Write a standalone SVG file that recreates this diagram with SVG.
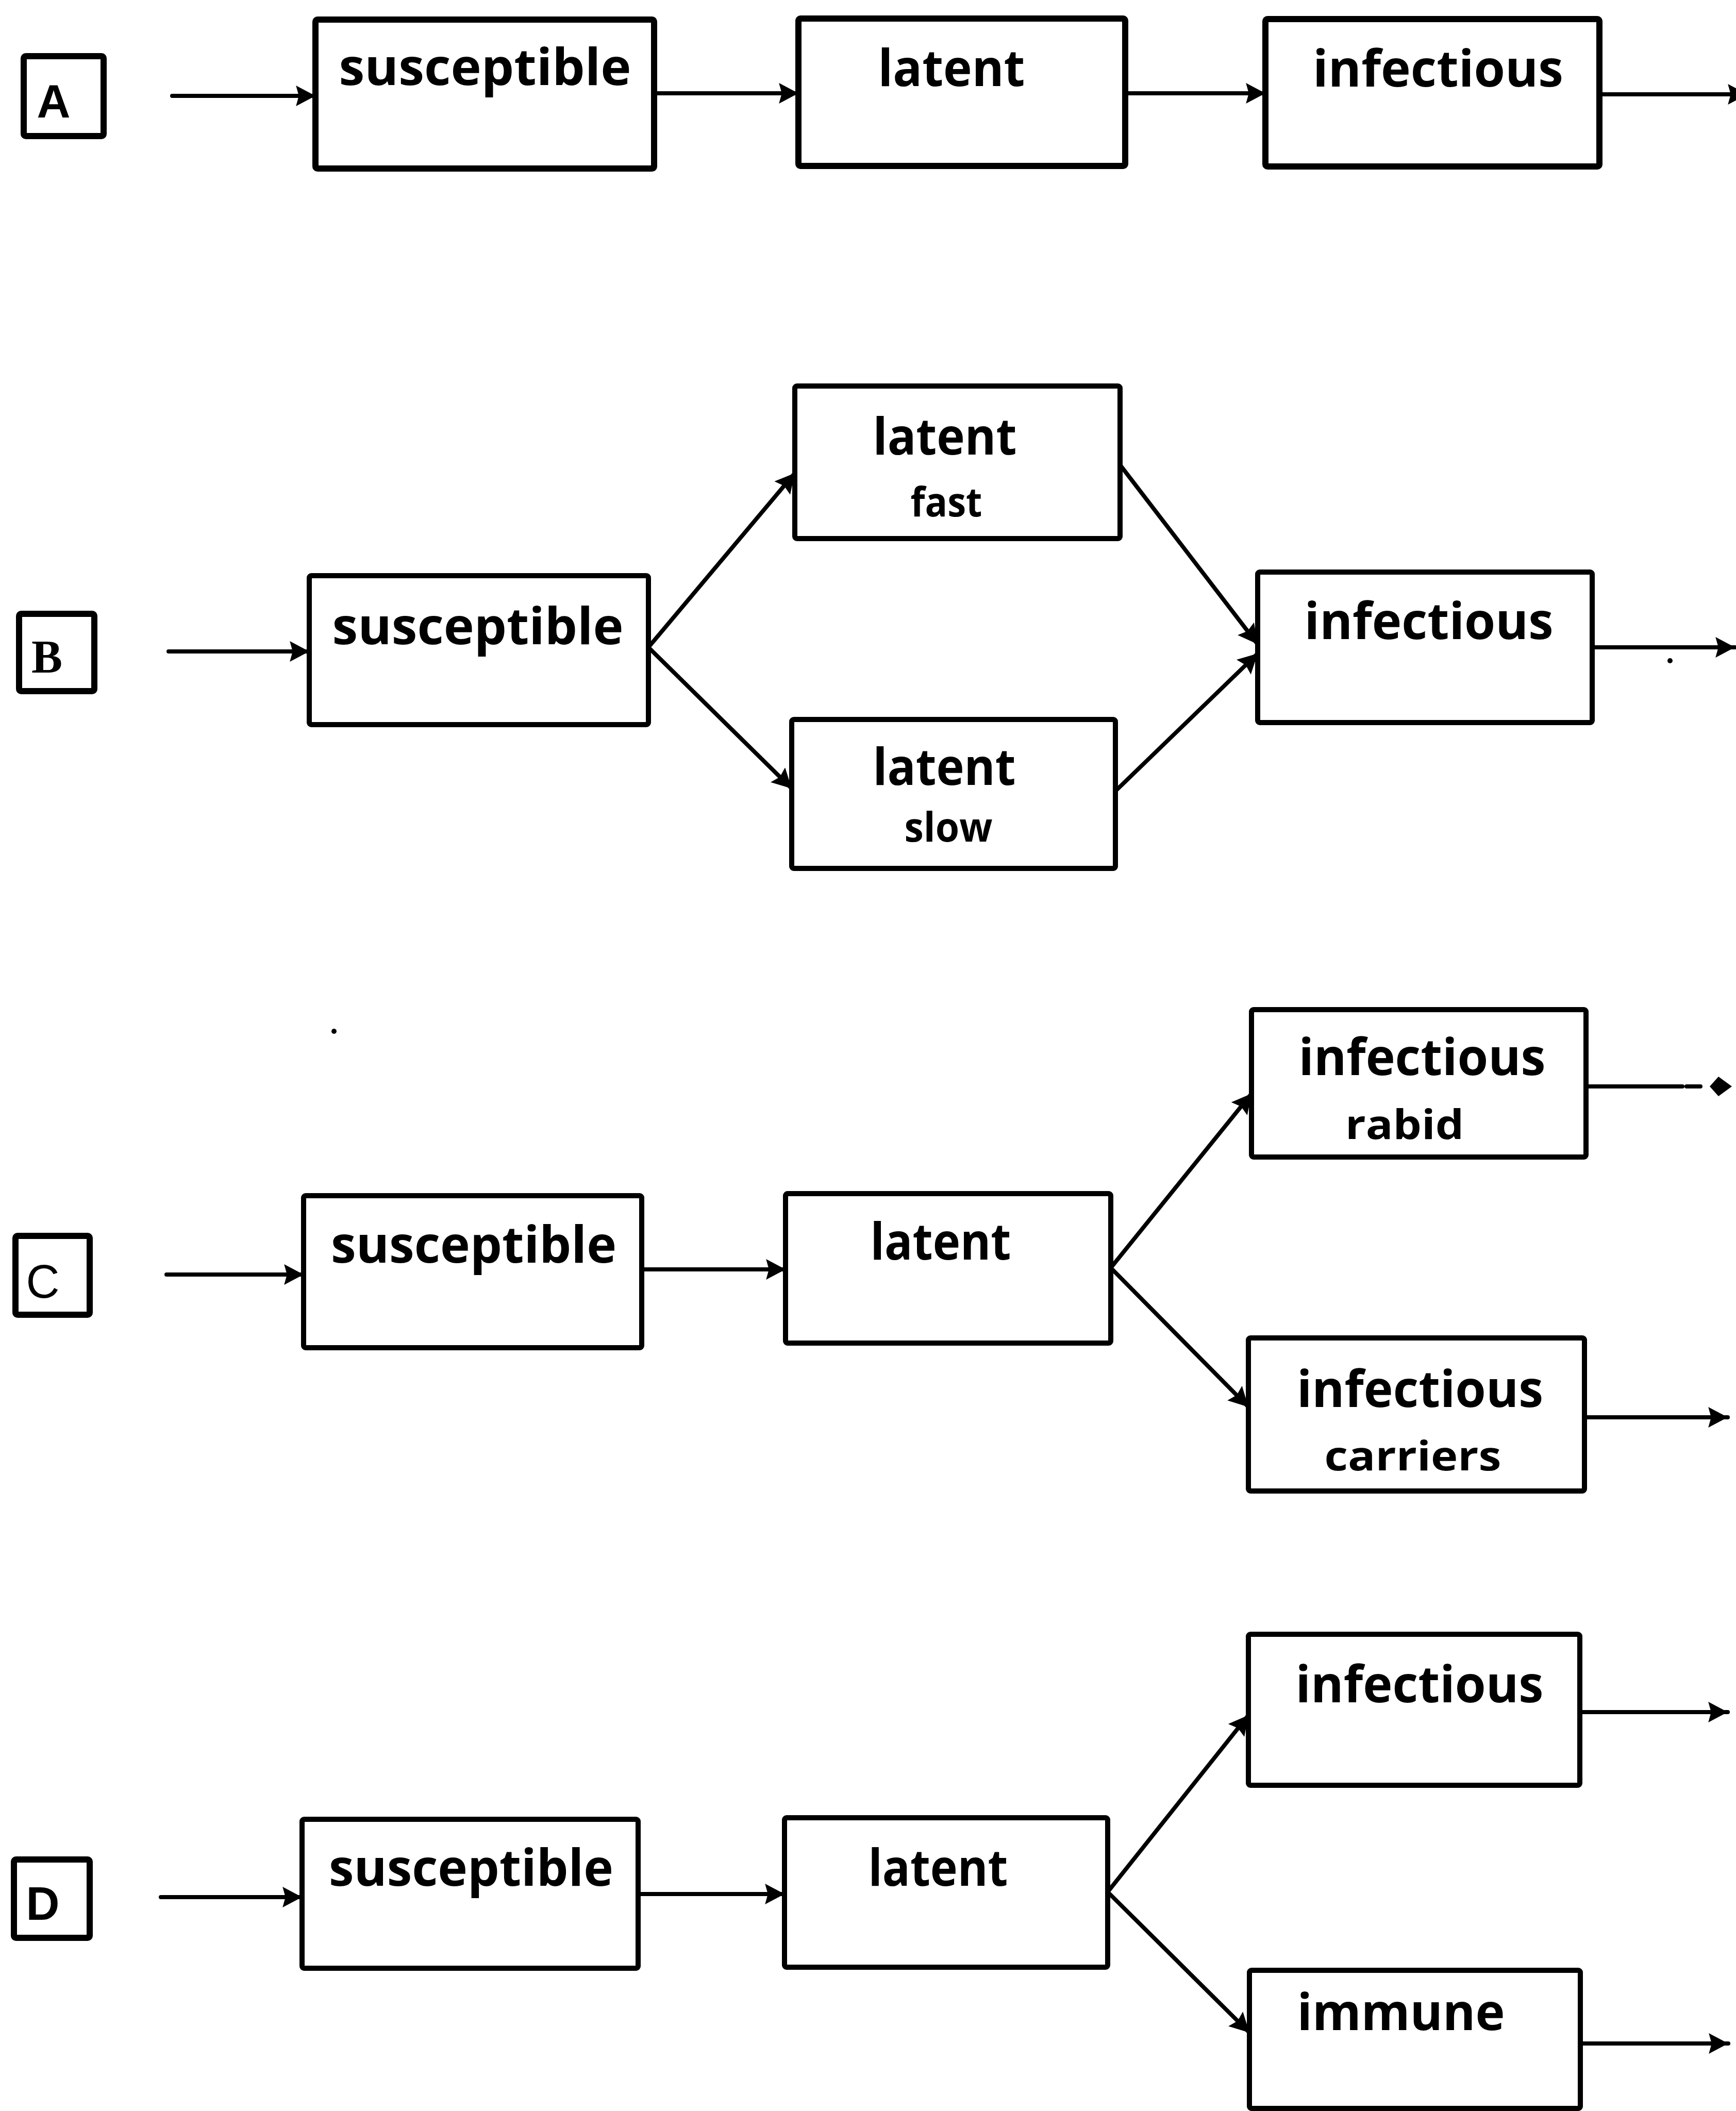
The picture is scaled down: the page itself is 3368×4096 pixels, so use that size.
<svg xmlns="http://www.w3.org/2000/svg" width="3368" height="4096" viewBox="0 0 3368 4096">
<style>
.box{fill:#fff;stroke:#000;stroke-width:10;stroke-linejoin:round}
.boxA{fill:#fff;stroke:#000;stroke-width:12;stroke-linejoin:round}
.lbl{fill:none;stroke:#000;stroke-width:12;stroke-linejoin:round}
.t{font-family:"Open Sans","DejaVu Sans",sans-serif;font-weight:700;font-size:98px;fill:#000;text-anchor:middle}
.s{font-family:"Open Sans","DejaVu Sans",sans-serif;font-weight:700;font-size:78px;fill:#000;text-anchor:middle}
.L{font-family:"Liberation Sans",Arial,sans-serif;font-size:90px;fill:#000;text-anchor:middle}
.c{stroke:#000;stroke-width:8;fill:none;stroke-linecap:round;marker-end:url(#ah)}
.cn{stroke:#000;stroke-width:8;fill:none;stroke-linecap:round}
</style>
<defs>
<marker id="ah" markerUnits="userSpaceOnUse" markerWidth="40" markerHeight="40" viewBox="0 0 34 36" refX="34" refY="18" orient="auto">
<path d="M0,0 L34,18 L0,36 L5,18 z" fill="#000"/>
</marker>
</defs>
<rect width="3368" height="4096" fill="#fff"/>

<g id="connectors">
<!-- Row A -->
<line class="c" x1="334" y1="186" x2="612" y2="186"/>
<line class="c" x1="1269" y1="181" x2="1549" y2="181"/>
<line class="c" x1="2183" y1="181" x2="2455" y2="181"/>
<line class="c" x1="3103" y1="183" x2="3390" y2="183"/>
<!-- Row B -->
<line class="c" x1="327" y1="1264" x2="600" y2="1264"/>
<line class="c" x1="1258" y1="1256" x2="1542" y2="918"/>
<line class="c" x1="1258" y1="1256" x2="1536" y2="1530"/>
<line class="c" x1="2173" y1="902" x2="2440" y2="1250"/>
<line class="c" x1="2164" y1="1535" x2="2440" y2="1268"/>
<line class="c" x1="3089" y1="1256" x2="3366" y2="1256"/>
<circle cx="3240" cy="1282" r="5" fill="#000"/>
<!-- Row C -->
<circle cx="648" cy="2001" r="5" fill="#000"/>
<line class="c" x1="323" y1="2473" x2="589" y2="2473"/>
<line class="c" x1="1245" y1="2463" x2="1524" y2="2463"/>
<line class="c" x1="2155" y1="2460" x2="2428" y2="2122"/>
<line class="c" x1="2155" y1="2460" x2="2422" y2="2730"/>
<line class="cn" x1="3077" y1="2108" x2="3264" y2="2108"/>
<line class="cn" x1="3272" y1="2108" x2="3299" y2="2108"/>
<path d="M3317,2108 L3334,2089 L3360,2108 L3334,2127 z" fill="#000"/>
<line class="c" x1="3074" y1="2750" x2="3352" y2="2750"/>
<!-- Row D -->
<line class="c" x1="312" y1="3681" x2="586" y2="3681"/>
<line class="c" x1="1238" y1="3675" x2="1522" y2="3675"/>
<line class="c" x1="2149" y1="3671" x2="2422" y2="3328"/>
<line class="c" x1="2149" y1="3671" x2="2424" y2="3944"/>
<line class="c" x1="3065" y1="3322" x2="3352" y2="3322"/>
<line class="c" x1="3066" y1="3965" x2="3353" y2="3965"/>
</g>

<!-- Row A -->
<g id="labelA"><rect class="lbl" x="46" y="109" width="155" height="155" rx="4"/><text class="L" font-weight="700" x="104" y="228">A</text></g>
<g id="susceptibleA"><rect class="boxA" x="612" y="38" width="657" height="289" rx="4"/><text class="t" x="941" y="165" textLength="567" lengthAdjust="spacingAndGlyphs">susceptible</text></g>
<g id="latentA"><rect class="boxA" x="1549" y="36" width="634" height="286" rx="4"/><text class="t" x="1846" y="167" textLength="285" lengthAdjust="spacingAndGlyphs">latent</text></g>
<g id="infectiousA"><rect class="boxA" x="2455" y="37" width="648" height="286" rx="4"/><text class="t" x="2790" y="168" textLength="486" lengthAdjust="spacingAndGlyphs">infectious</text></g>

<!-- Row B -->
<g id="labelB"><rect class="lbl" x="37" y="1191" width="146" height="150" rx="4"/><text class="L" font-family="Liberation Serif, serif" style="font-family:'Liberation Serif',serif" font-weight="700" x="91" y="1305">B</text></g>
<g id="susceptibleB"><rect class="box" x="600" y="1117" width="658" height="289" rx="4"/><text class="t" x="927" y="1250" textLength="565" lengthAdjust="spacingAndGlyphs">susceptible</text></g>
<g id="latentFastB"><rect class="box" x="1542" y="749" width="631" height="296" rx="4"/><text class="t" x="1833" y="882" textLength="279" lengthAdjust="spacingAndGlyphs">latent</text><text class="s" x="1836" y="1002" textLength="139" lengthAdjust="spacingAndGlyphs">fast</text></g>
<g id="latentSlowB"><rect class="box" x="1536" y="1396" width="628" height="289" rx="4"/><text class="t" x="1832" y="1523" textLength="277" lengthAdjust="spacingAndGlyphs">latent</text><text class="s" x="1840" y="1633" textLength="171" lengthAdjust="spacingAndGlyphs">slow</text></g>
<g id="infectiousB"><rect class="box" x="2440" y="1110" width="649" height="292" rx="4"/><text class="t" x="2772" y="1240" textLength="483" lengthAdjust="spacingAndGlyphs">infectious</text></g>

<!-- Row C -->
<g id="labelC"><rect class="lbl" x="30" y="2398" width="144" height="153" rx="4"/><text class="L" x="83" y="2518">C</text></g>
<g id="susceptibleC"><rect class="box" x="589" y="2320" width="656" height="295" rx="4"/><text class="t" x="919" y="2450" textLength="554" lengthAdjust="spacingAndGlyphs">susceptible</text></g>
<g id="latentC"><rect class="box" x="1524" y="2316" width="631" height="290" rx="4"/><text class="t" x="1825" y="2444" textLength="273" lengthAdjust="spacingAndGlyphs">latent</text></g>
<g id="infectiousRabidC"><rect class="box" x="2428" y="1959" width="649" height="286" rx="4"/><text class="t" x="2759" y="2086" textLength="479" lengthAdjust="spacingAndGlyphs">infectious</text><text class="s" x="2725" y="2210" textLength="230" lengthAdjust="spacingAndGlyphs">rabid</text></g>
<g id="infectiousCarriersC"><rect class="box" x="2422" y="2596" width="652" height="297" rx="4"/><text class="t" x="2755" y="2730" textLength="478" lengthAdjust="spacingAndGlyphs">infectious</text><text class="s" x="2741" y="2853" textLength="343" lengthAdjust="spacingAndGlyphs">carriers</text></g>

<!-- Row D -->
<g id="labelD"><rect class="lbl" x="27" y="3608" width="147" height="152" rx="4"/><text class="L" font-weight="700" x="83" y="3725">D</text></g>
<g id="susceptibleD"><rect class="box" x="586" y="3530" width="652" height="289" rx="4"/><text class="t" x="914" y="3659" textLength="552" lengthAdjust="spacingAndGlyphs">susceptible</text></g>
<g id="latentD"><rect class="box" x="1522" y="3527" width="627" height="290" rx="4"/><text class="t" x="1820" y="3659" textLength="271" lengthAdjust="spacingAndGlyphs">latent</text></g>
<g id="infectiousD"><rect class="box" x="2422" y="3171" width="643" height="293" rx="4"/><text class="t" x="2754" y="3303" textLength="481" lengthAdjust="spacingAndGlyphs">infectious</text></g>
<g id="immuneD"><rect class="box" x="2424" y="3823" width="642" height="268" rx="4"/><text class="t" x="2718" y="3939" textLength="403" lengthAdjust="spacingAndGlyphs">immune</text></g>
</svg>
